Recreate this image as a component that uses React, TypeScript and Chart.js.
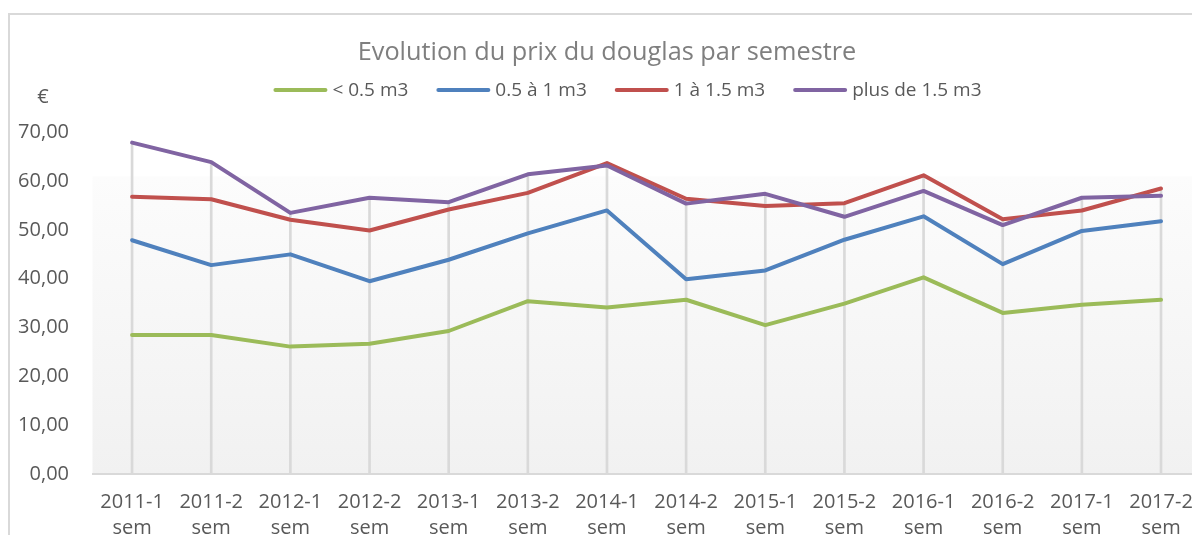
import React, { useEffect, useRef } from "react";
import { Chart, registerables } from "chart.js";

Chart.register(...registerables);

const categories: string[][] = [
  ["2011-1", "sem"], ["2011-2", "sem"], ["2012-1", "sem"], ["2012-2", "sem"],
  ["2013-1", "sem"], ["2013-2", "sem"], ["2014-1", "sem"], ["2014-2", "sem"],
  ["2015-1", "sem"], ["2015-2", "sem"], ["2016-1", "sem"], ["2016-2", "sem"],
  ["2017-1", "sem"], ["2017-2", "sem"],
];

const seriesLabels = ["< 0.5 m3", "0.5 à 1 m3", "1 à 1.5 m3", "plus de 1.5 m3"];
const seriesColors = ["#9BBB59", "#4F81BD", "#C0504D", "#8064A2"];

const lessThanHalf = [28.5, 28.5, 26.1, 26.7, 29.3, 35.4, 34.1, 35.7, 30.5, 34.9, 40.3, 33.0, 34.7, 35.7];
const halfToOne = [47.9, 42.8, 45.0, 39.5, 43.9, 49.3, 54.0, 39.9, 41.7, 48.0, 52.8, 43.0, 49.8, 51.8];
const oneToOneHalf = [56.8, 56.3, 52.1, 49.9, 54.2, 57.6, 63.7, 56.4, 54.9, 55.5, 61.2, 52.2, 54.0, 58.5];
const moreThanOneHalf = [67.9, 63.9, 53.5, 56.6, 55.7, 61.4, 63.2, 55.4, 57.4, 52.7, 58.0, 51.0, 56.6, 57.0];

const yMin = 0;
const yMax = 70;
const yStep = 10;

const titleText = "Evolution du prix du douglas par semestre";
const yUnit = "€";

const FONT = "'Open Sans', 'Noto Sans', sans-serif";
const TEXT = "#595959";

const CANVAS_W = 1215;
const CANVAS_H = 560;
const PAD_LEFT = 13.4;

export default function App() {
  const ref = useRef<HTMLCanvasElement | null>(null);

  useEffect(() => {
    const canvas = ref.current;
    if (!canvas) return;
    const series = [lessThanHalf, halfToOne, oneToOneHalf, moreThanOneHalf];
    const dropTops = categories.map((_, i) => Math.max(...series.map((s) => s[i])));

    const decor = {
      id: "decor",
      beforeDraw(chart: any) {
        const { ctx, chartArea } = chart;
        ctx.save();
        ctx.fillStyle = "#ffffff";
        ctx.fillRect(0, 0, chart.width, chart.height);
        const top = chartArea.top + 44;
        const g = ctx.createLinearGradient(0, top, 0, chartArea.bottom);
        g.addColorStop(0, "#fcfcfc");
        g.addColorStop(1, "#f1f1f1");
        ctx.fillStyle = g;
        ctx.fillRect(chartArea.left, top, chartArea.right - chartArea.left + 20, chartArea.bottom - top);
        ctx.strokeStyle = "#d9d9d9";
        ctx.lineWidth = 2;
        ctx.strokeRect(9, 14, 1260, 700);
        ctx.restore();
      },
      afterDraw(chart: any) {
        const { ctx } = chart;
        ctx.save();
        // unit label
        ctx.font = `20px ${FONT}`;
        ctx.fillStyle = TEXT;
        ctx.textAlign = "center";
        ctx.textBaseline = "middle";
        ctx.fillText(yUnit, 43, 97);
        // legend
        const items = chart.data.datasets.filter((d: any) => d.type === "line");
        ctx.font = `19px ${FONT}`;
        const lineLen = 54;
        const gapText = 5;
        const gapItem = 28;
        const widths = items.map((d: any) => lineLen + gapText + ctx.measureText(d.label).width);
        const total = widths.reduce((a: number, b: number) => a + b, 0) + gapItem * (items.length - 1);
        let x = 627.5 - total / 2;
        const y = 90;
        ctx.textAlign = "left";
        items.forEach((d: any, i: number) => {
          ctx.strokeStyle = d.borderColor;
          ctx.lineWidth = 4;
          ctx.lineCap = "round";
          ctx.beginPath();
          ctx.moveTo(x + 2, y);
          ctx.lineTo(x + lineLen - 2, y);
          ctx.stroke();
          ctx.fillStyle = TEXT;
          ctx.fillText(d.label, x + lineLen + gapText, y + 1);
          x += widths[i] + gapItem;
        });
        ctx.restore();
      },
    };

    const lineDatasets = series.map((data, i) => ({
      type: "line" as const,
      label: seriesLabels[i],
      data,
      borderColor: seriesColors[i],
      backgroundColor: seriesColors[i],
      borderWidth: 4,
      pointRadius: 0,
      tension: 0,
      fill: false,
      borderCapStyle: "round" as const,
      borderJoinStyle: "round" as const,
      order: 4 - i,
    }));

    const chart = new Chart(canvas, {
      data: {
        labels: categories,
        datasets: [
          {
            type: "bar" as const,
            label: "drop",
            data: dropTops,
            backgroundColor: "#d9d9d9",
            barThickness: 2,
            order: 10,
          },
          ...lineDatasets,
        ],
      },
      options: {
        responsive: false,
        maintainAspectRatio: false,
        devicePixelRatio: 1,
        animation: false,
        layout: { padding: { left: PAD_LEFT, right: CANVAS_W - 1200.6, top: 0, bottom: 0 } },
        plugins: {
          legend: { display: false },
          tooltip: { enabled: false },
          title: {
            display: true,
            text: titleText,
            color: "#7f7f7f",
            font: { family: FONT, size: 25.3, weight: "normal" },
            padding: { top: 38, bottom: 64 },
          },
        },
        scales: {
          x: {
            type: "category",
            offset: true,
            grid: { display: false, drawTicks: false },
            border: { display: true, color: "#d9d9d9", width: 2 },
            ticks: {
              color: TEXT,
              font: { family: FONT, size: 20, lineHeight: 1.3 },
              padding: 15,
              maxRotation: 0,
              minRotation: 0,
              autoSkip: false,
            },
            afterFit: (s: any) => {
              s.height = CANVAS_H - 474;
            },
          },
          y: {
            min: yMin,
            max: yMax,
            grid: { display: false, drawTicks: false },
            border: { display: false },
            ticks: {
              stepSize: yStep,
              color: TEXT,
              font: { family: FONT, size: 20 },
              padding: 23.5,
              callback: (v: any) => Number(v).toFixed(2).replace(".", ","),
            },
            afterFit: (s: any) => {
              s.width = 92.5 - PAD_LEFT;
            },
          },
        },
      },
      plugins: [decor],
    } as any);

    return () => chart.destroy();
  }, []);

  return (
    <div
      style={{
        position: "fixed",
        left: 0,
        top: 0,
        width: 1192,
        height: 535,
        overflow: "hidden",
        background: "#ffffff",
      }}
    >
      <canvas
        ref={ref}
        width={CANVAS_W}
        height={CANVAS_H}
        style={{ display: "block", width: CANVAS_W, height: CANVAS_H }}
      />
    </div>
  );
}
